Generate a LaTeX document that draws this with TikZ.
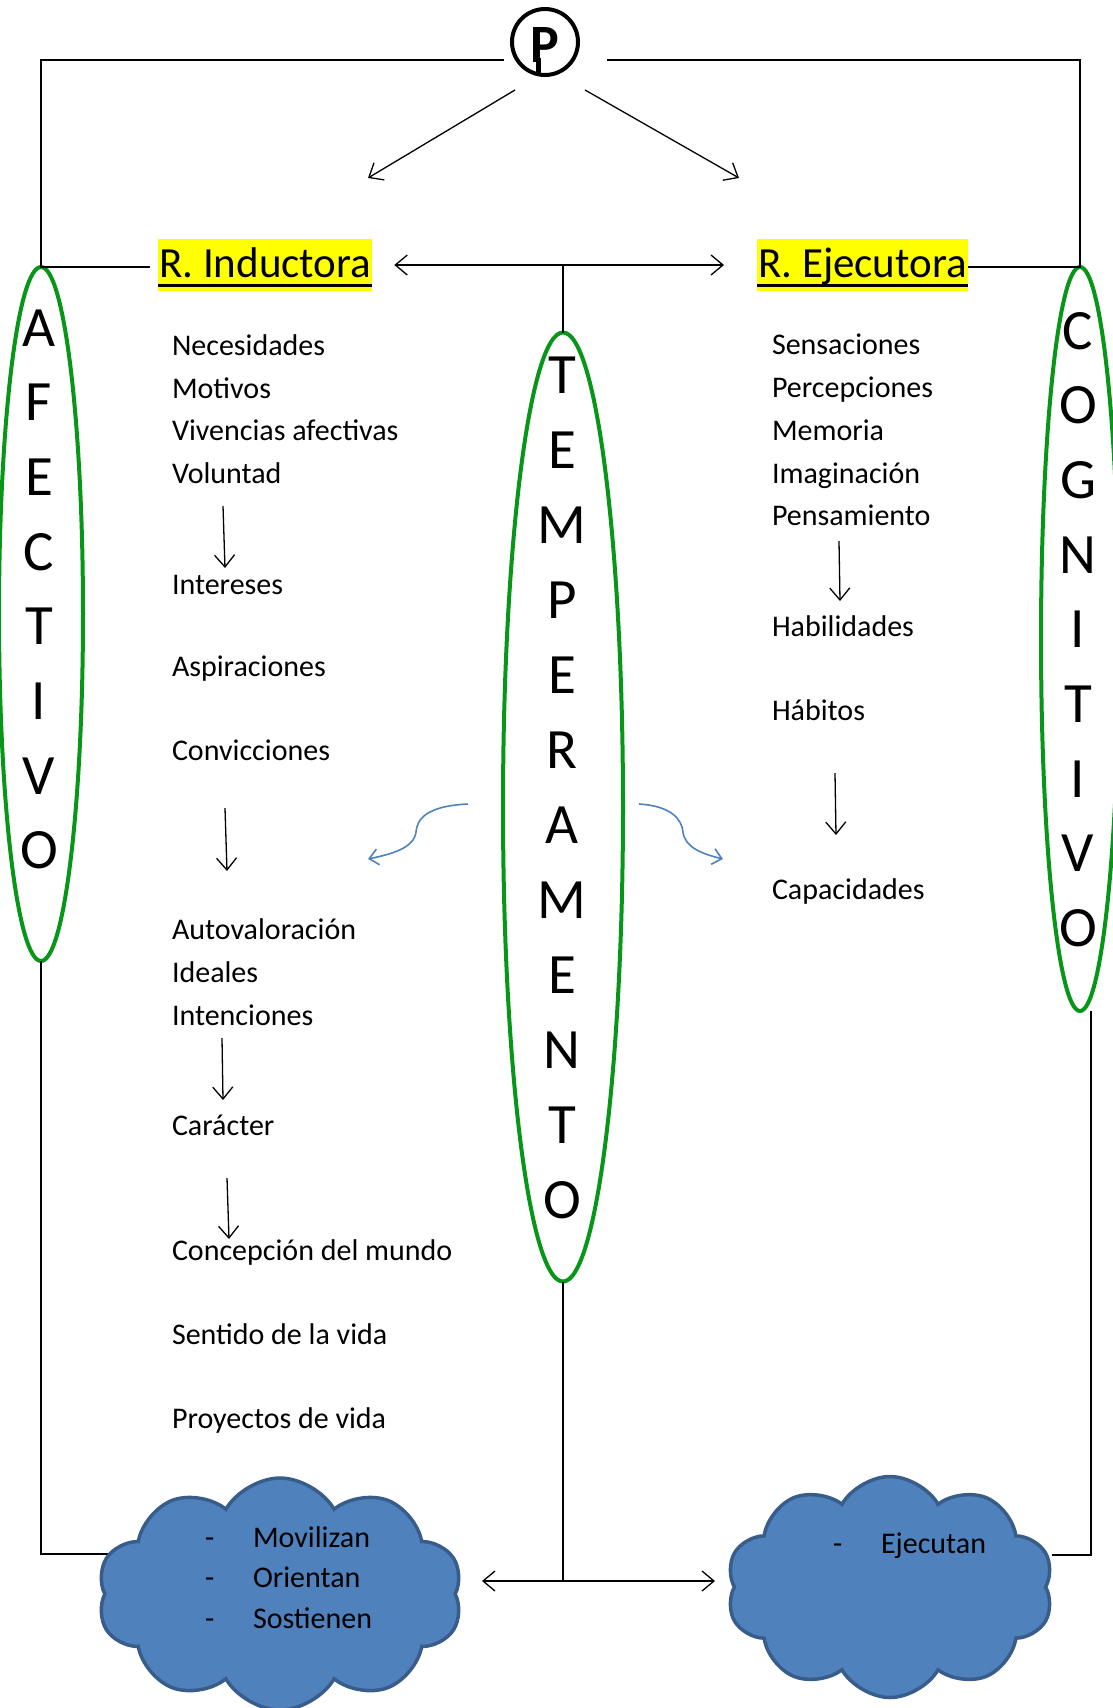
\documentclass[tikz,border=0pt]{standalone}
\usepackage{fontspec}
\setmainfont{Carlito}
\usetikzlibrary{arrows.meta, calc, shapes.geometric, shapes.symbols}
\definecolor{ovalgreen}{RGB}{8,150,24}
\definecolor{cloudfill}{RGB}{79,129,189}
\definecolor{clouddraw}{RGB}{56,93,138}
\definecolor{hiyellow}{RGB}{255,255,0}
\newcommand{\fsz}[1]{\fontsize{#1}{#1}\selectfont}

\begin{document}
\begin{tikzpicture}[x=1pt, y=-1pt,
    >={Straight Barb[length=12pt,width=20pt]},
    line width=1.3pt,
    every node/.style={inner sep=0pt, outer sep=0pt},
    txt/.style={anchor=base west, font=\fsz{30}},
    title/.style={anchor=base west, font=\fsz{43}, fill=hiyellow,
      text height=38pt, text depth=14pt, inner xsep=1pt},
    bigl/.style={anchor=base, font=\fsz{57}},
    oval/.style={ellipse, draw=ovalgreen, line width=4pt},
    arr/.style={->},
    dbl/.style={<->},
    curl/.style={-{Straight Barb[length=9pt,width=16pt]}, cloudfill, line width=1.6pt},
    cloudy/.style={cloud, cloud puffs=10, cloud puff arc=120, cloud ignores aspect,
      fill=cloudfill, draw=clouddraw, line width=3.5pt}
  ]
  \useasboundingbox (0,0) rectangle (1113,1708);

  % the three ovals and their letters
  \node[oval, minimum width=84pt, minimum height=694pt] (afec) at (41,614) {};
  \node[oval, minimum width=120pt, minimum height=949pt] (temp) at (563,807) {};
  \node[oval, minimum width=78pt, minimum height=744pt] (cogn) at (1080,639) {};
  \foreach \l [count=\i from 0] in {A,F,E,C,T,I,V,O}
    \node[bigl] (afec-\i) at (39,{346+74.7*\i}) {\l};
  \foreach \l [count=\i from 0] in {T,E,M,P,E,R,A,M,E,N,T,O}
    \node[bigl] (temp-\i) at (562,{393+75*\i}) {\l};
  \foreach \l [count=\i from 0] in {C,O,G,N,I,T,I,V,O}
    \node[bigl] (cogn-\i) at (1078,{349+74.7*\i}) {\l};

  % P mark
  \node[circle, draw, line width=4pt, minimum size=66pt] (pnode) at (545,42) {};
  \node[anchor=base, font=\bfseries\fsz{54}] (pletter) at (545,62) {P};
  \draw[line width=5pt] (538,58) -- (538,73);

  % titles
  \node[title] (ind) at (158,277) {R. Inductora};
  \node[title] (eje) at (757,277) {R. Ejecutora};
  \draw[line width=3pt] ([shift={(0,8)}]ind.base west) -- ([shift={(0,8)}]ind.base east);
  \draw[line width=3pt] ([shift={(0,8)}]eje.base west) -- ([shift={(0,8)}]eje.base east);

  \coordinate (topL) at (504,60);
  \coordinate (topR) at (607,60);
  \draw (topL) -| (afec.north) -- ([xshift=-8pt]ind.west |- afec.north);
  \draw (topR) -| (cogn.north) -- (eje.east |- cogn.north);

  \coordinate (pLs) at (515,90);  % from P, left
  \coordinate (pLe) at (368,178);
  \coordinate (pRs) at (585,90);  % from P, right
  \coordinate (pRe) at (739,178);
  \draw[arr] (pLs) -- (pLe);
  \draw[arr] (pRs) -- (pRe);

  \draw[dbl] ([xshift=22pt]ind.east) -- ([xshift=-33pt]eje.west);
  \draw (temp.north) -- (temp.north |- ind.east);

  % left column
  \node[txt] (nec)  at (172,355)  {Necesidades};
  \node[txt] (mot)  at (172,398)  {Motivos};
  \node[txt] (viv)  at (172,440)  {Vivencias afectivas};
  \node[txt] (vol)  at (172,483)  {Voluntad};
  \node[txt] (inte) at (172,594)  {Intereses};
  \node[txt] (asp)  at (172,676)  {Aspiraciones};
  \node[txt] (conv) at (172,760)  {Convicciones};
  \node[txt] (auto) at (172,939)  {Autovaloración};
  \node[txt] (ide)  at (172,982)  {Ideales};
  \node[txt] (intc) at (172,1025) {Intenciones};
  \node[txt] (car)  at (172,1135) {Carácter};
  \node[txt] (conc) at (172,1260) {Concepción del mundo};
  \node[txt] (sen)  at (172,1344) {Sentido de la vida};
  \node[txt] (pro)  at (172,1428) {Proyectos de vida};

  \draw[arr] ([shift={(51,23)}]vol.base west)  -- ([shift={(53,-26)}]inte.base west);
  \draw[arr] ([shift={(53,48)}]conv.base west) -- ([shift={(55,-68)}]auto.base west);
  \draw[arr] ([shift={(50,13)}]intc.base west) -- ([shift={(51,-35)}]car.base west);
  \draw[arr] ([shift={(55,43)}]car.base west)  -- ([shift={(57,-21)}]conc.base west);

  % right column
  \node[txt] (sens) at (772,354) {Sensaciones};
  \node[txt] (perc) at (772,397) {Percepciones};
  \node[txt] (mem)  at (772,440) {Memoria};
  \node[txt] (ima)  at (772,483) {Imaginación};
  \node[txt] (pen)  at (772,525) {Pensamiento};
  \node[txt] (hab)  at (772,636) {Habilidades};
  \node[txt] (hat)  at (772,720) {Hábitos};
  \node[txt] (capa) at (772,899) {Capacidades};

  \draw[arr] ([shift={(67,16)}]pen.base west) -- ([shift={(68,-35)}]hab.base west);
  \draw[arr] ([shift={(63,53)}]hat.base west) -- ([shift={(64,-64)}]capa.base west);

  % curly blue arrows
  \coordinate (cl0) at (468,804);
  \coordinate (cl1) at (368,859);
  \coordinate (cr0) at (639,804);
  \coordinate (cr1) at (723,859);
  \draw[curl] (cl0) .. controls (425,806) and (417,820) .. (416,832)
    .. controls (414,848) and (392,854) .. (cl1);
  \draw[curl] (cr0) .. controls (672,806) and (682,820) .. (683,832)
    .. controls (685,848) and (703,854) .. (cr1);

  % bottom
  \coordinate (lclw) at (112,1554);
  \coordinate (rcle) at (1052,1555);
  \coordinate (bl) at (482,1581);
  \coordinate (br) at (715,1581);
  \draw (afec.south) |- (lclw);
  \draw ([xshift=11pt]cogn.south) |- (rcle);
  \draw[dbl] (bl) -- (br);
  \draw (temp.south) -- (temp.south |- bl);

  \node[cloudy, minimum width=365pt, minimum height=232pt] (lcl) at (280,1594) {};
  \node[cloudy, minimum width=327pt, minimum height=221pt] (rcl) at (890,1587) {};
  \foreach \w [count=\i from 0] in {Movilizan,Orientan,Sostienen} {
    \node[txt] (dash-\i) at (205,{1547+40.5*\i}) {-};
    \node[txt] (word-\i) at (253,{1547+40.5*\i}) {\w};
  }
  \node[txt] (dash-r) at (833,1553) {-};
  \node[txt] (word-r) at (881,1553) {Ejecutan};
\end{tikzpicture}
\end{document}
